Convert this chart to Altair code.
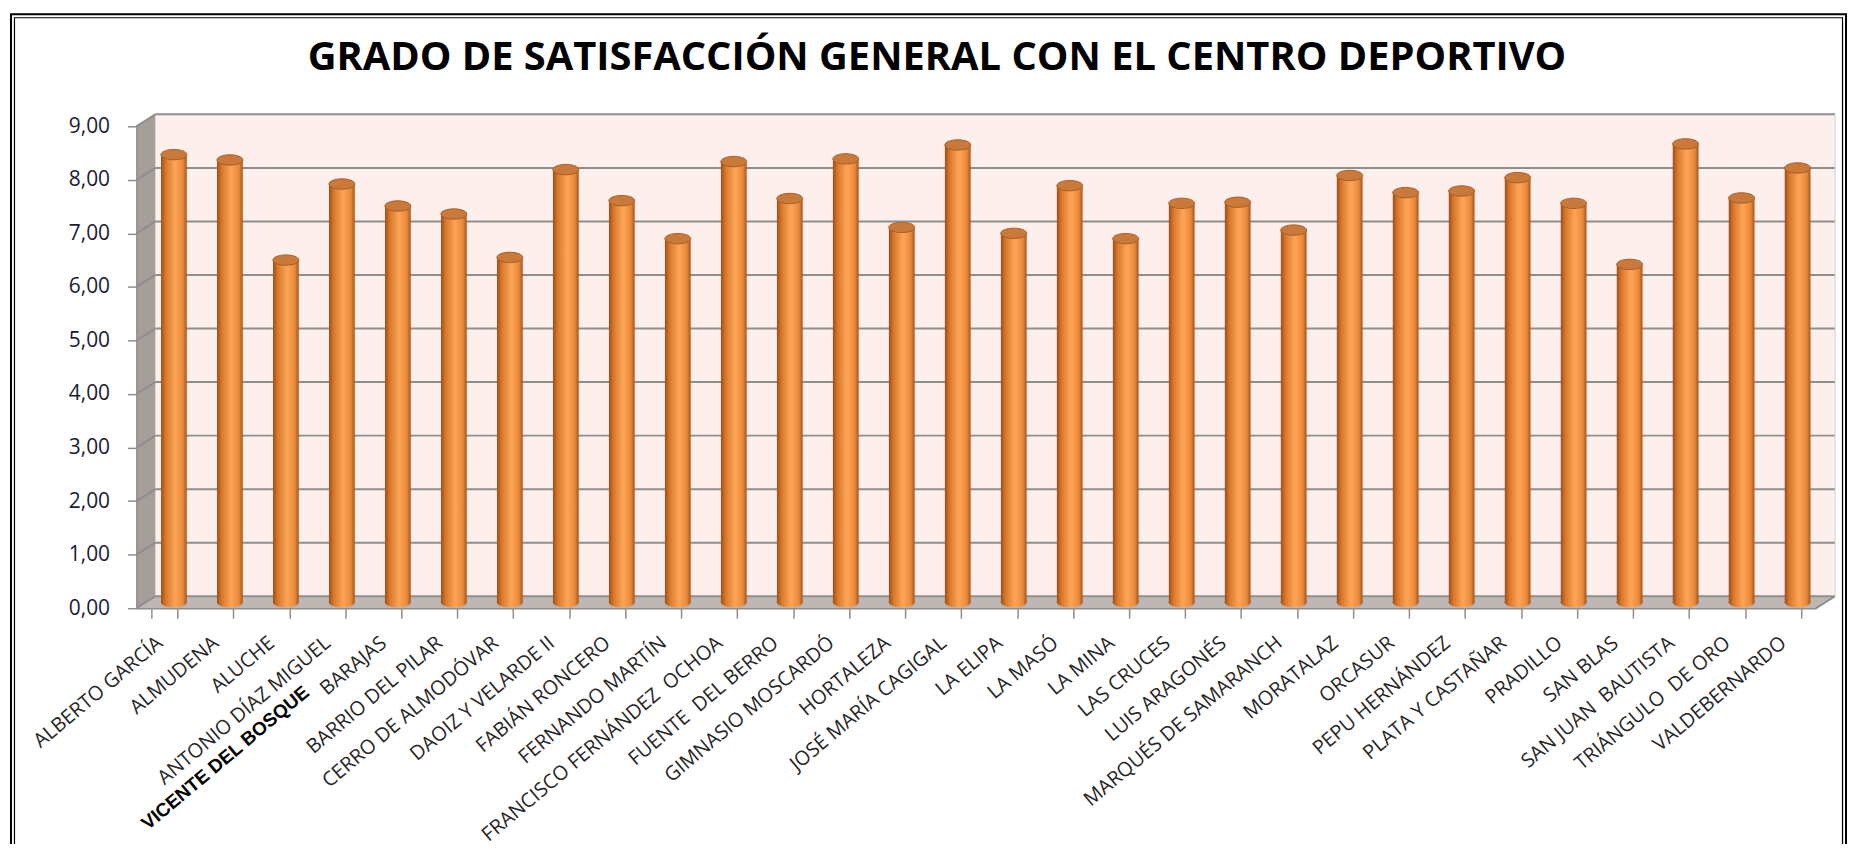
import altair as alt
import pandas as pd

TITLE = "GRADO DE SATISFACCIÓN GENERAL CON EL CENTRO DEPORTIVO"

categories = [
    "ALBERTO GARCÍA", "ALMUDENA", "ALUCHE", "ANTONIO DÍAZ MIGUEL", "BARAJAS",
    "BARRIO DEL PILAR", "CERRO DE ALMODÓVAR", "DAOIZ Y VELARDE II", "FABIÁN RONCERO",
    "FERNANDO MARTÍN", "FRANCISCO FERNÁNDEZ\u00a0 OCHOA", "FUENTE\u00a0 DEL BERRO",
    "GIMNASIO MOSCARDÓ", "HORTALEZA", "JOSÉ MARÍA CAGIGAL", "LA ELIPA", "LA MASÓ",
    "LA MINA", "LAS CRUCES", "LUIS ARAGONÉS", "MARQUÉS DE SAMARANCH", "MORATALAZ",
    "ORCASUR", "PEPU HERNÁNDEZ", "PLATA Y CASTAÑAR", "PRADILLO", "SAN BLAS",
    "SAN JUAN\u00a0 BAUTISTA", "TRIÁNGULO\u00a0 DE ORO", "VALDEBERNARDO",
]
values = [
    8.36, 8.26, 6.39, 7.81, 7.40, 7.25, 6.44, 8.08, 7.50, 6.79,
    8.23, 7.54, 8.28, 7.00, 8.54, 6.89, 7.78, 6.79, 7.45, 7.47,
    6.95, 7.97, 7.65, 7.68, 7.93, 7.45, 6.31, 8.56, 7.55, 8.11,
]
y_ticks = [0, 1, 2, 3, 4, 5, 6, 7, 8, 9]
overlay_label = "VICENTE DEL BOSQUE"
overlay_at = "ANTONIO DÍAZ MIGUEL"

# plot geometry (front plane of the 3-D box)
W, H = 1687, 484
DX, DY = 19, 12          # depth of the 3-D box in pixels
n = len(categories)
dxu = DX / (W / n)       # depth in category units
dyu = DY / (H / 9)       # depth in value units

GRID = "#8e8e8e"
FONT = "Open Sans"

xq = alt.Scale(domain=[0, n], nice=False, zero=False)
ys = alt.Scale(domain=[0, 9], nice=False, zero=False)

yaxis = alt.Axis(
    title=None, values=y_ticks, grid=False,
    labelExpr="replace(format(datum.value, '.2f'), '.', ',')",
    labelFont=FONT, labelFontSize=21, labelColor="#1b1b30", labelPadding=18,
    tickSize=9, tickColor=GRID, tickWidth=1.5, domainColor=GRID, domainWidth=1.5, zindex=1,
)
xaxis = alt.Axis(
    title=None, labelAngle=-40, labelAlign="right", labelBaseline="middle",
    labelFont=FONT, labelFontSize=20, labelColor="#262626", labelPadding=22, labelOffset=-5,
    labelLimit=500, labelOverlap=False, tickBand="extent", tickSize=10, tickColor=GRID,
    tickWidth=1.5, domainColor=GRID, domainWidth=1.5, zindex=1,
)

def X(f="x"):
    return alt.X(f + ":Q", scale=xq, axis=None)

def Y(f="y"):
    return alt.Y(f + ":Q", scale=ys, axis=yaxis)

one = pd.DataFrame({"a": [0]})

# frame border (decoration)
border_outer = alt.Chart(one).mark_rect(fillOpacity=0, stroke="#000000", strokeWidth=2).encode(
    x=alt.value(11 - 137), x2=alt.value(1854 - 137), y=alt.value(12.5 - 125), y2=alt.value(900))
border_inner = alt.Chart(one).mark_rect(fillOpacity=0, stroke="#000000", strokeWidth=1.2).encode(
    x=alt.value(14.5 - 137), x2=alt.value(1850.5 - 137), y=alt.value(16 - 125), y2=alt.value(900))

title = alt.Chart(pd.DataFrame({"t": [TITLE]})).mark_text(
    font=FONT, fontWeight="bold", fontSize=40, color="#000000", align="center", baseline="middle"
).encode(text="t:N", x=alt.value(941 - 137), y=alt.value(56 - 125))

# back wall
wall = alt.Chart(pd.DataFrame({"x": [dxu], "x2": [n + dxu], "y": [dyu], "y2": [9 + dyu]})).mark_rect(
    color="#FDF0EC").encode(x=X(), x2="x2:Q", y=Y(), y2="y2:Q")

# left side wall
left_wall = alt.Chart(pd.DataFrame({"x": [0, dxu], "y": [9, 9 + dyu], "y2": [0, dyu]})).mark_area(
    color="#A59E9A", orient="vertical").encode(x=X(), y=Y(), y2="y2:Q")

# floor
floor = alt.Chart(pd.DataFrame({"x": [0, dxu, n, n + dxu],
                                "y": [0, dyu, dyu, dyu],
                                "y2": [0, 0, 0, dyu]})).mark_area(
    color="#BFB7B3", orient="vertical").encode(x=X(), y=Y(), y2="y2:Q")

# gridlines on back wall + their diagonals on the left wall
grid_rows = []
for k in y_ticks:
    grid_rows.append({"x": dxu, "x2": n + dxu, "y": k + dyu, "y2": k + dyu})
    grid_rows.append({"x": 0, "x2": dxu, "y": k, "y2": k + dyu})
grid_rows.append({"x": n, "x2": n + dxu, "y": 0, "y2": dyu})
grid = alt.Chart(pd.DataFrame(grid_rows)).mark_rule(color=GRID, strokeWidth=2).encode(
    x=X(), x2="x2:Q", y=Y(), y2="y2:Q")
right_edge = alt.Chart(pd.DataFrame({"x": [n + dxu], "y": [dyu], "y2": [9 + dyu]})).mark_rule(
    color="#D6CFCB", strokeWidth=1).encode(x=X(), y=Y(), y2="y2:Q")

# bars (cylinders)
df = pd.DataFrame({"centro": categories, "valor": values})
band = alt.Scale(domain=categories, paddingInner=0.54, paddingOuter=0.27)
BX, BY = DX / 2, -DY / 2

cyl = alt.Gradient(
    gradient="linear", x1=0, x2=1, y1=0, y2=0,
    stops=[
        alt.GradientStop(offset=0, color="#9C4F18"),
        alt.GradientStop(offset=0.18, color="#D8772C"),
        alt.GradientStop(offset=0.55, color="#FFA556"),
        alt.GradientStop(offset=0.85, color="#E8893B"),
        alt.GradientStop(offset=1, color="#A3561E"),
    ],
)

ELLIPSE = "M -1 0 A 1 0.4 0 1 1 1 0 A 1 0.4 0 1 1 -1 0 Z"
cap_size = (26 / 2) ** 2 * 4

base = alt.Chart(df)
bottom_caps = base.mark_point(shape=ELLIPSE, filled=True, size=cap_size, fill=cyl, opacity=1,
                              xOffset=BX, yOffset=BY).encode(
    x=alt.X("centro:N", scale=band, sort=categories, axis=xaxis),
    y=Y("zero"),
).transform_calculate(zero="0")
bars = base.mark_bar(color=cyl, xOffset=BX, yOffset=BY, y2Offset=BY).encode(
    x=alt.X("centro:N", scale=band, sort=categories, axis=xaxis),
    y=Y("valor"),
)
top_caps = base.mark_point(shape=ELLIPSE, filled=True, size=cap_size, fill="#C97A3B",
                           stroke="#A65D24", strokeWidth=1, opacity=1,
                           xOffset=BX, yOffset=BY).encode(
    x=alt.X("centro:N", scale=band, sort=categories, axis=xaxis),
    y=Y("valor"),
)
overlay = alt.Chart(pd.DataFrame({"centro": [overlay_at], "t": [overlay_label], "zero": [0]})).mark_text(
    font="Liberation Sans", fontWeight="bold", fontSize=19, color="#000000",
    align="right", baseline="middle", angle=320, xOffset=-26, yOffset=82,
).encode(
    x=alt.X("centro:N", scale=band, sort=categories, axis=xaxis),
    y=Y("zero"),
    text="t:N",
)

bar_group = alt.layer(bottom_caps, bars, top_caps, overlay)

chart = alt.layer(
    border_outer, border_inner, title, wall, left_wall, floor, grid, right_edge, bar_group
).resolve_scale(x="independent").properties(
    width=W, height=H,
    padding={"left": 129, "top": 117, "right": 32, "bottom": 235},
    autosize=alt.AutoSizeParams(type="none"),
    background="white",
).configure_view(strokeWidth=0)

chart.save("out.html", embed_options={"renderer": "svg", "actions": False})
